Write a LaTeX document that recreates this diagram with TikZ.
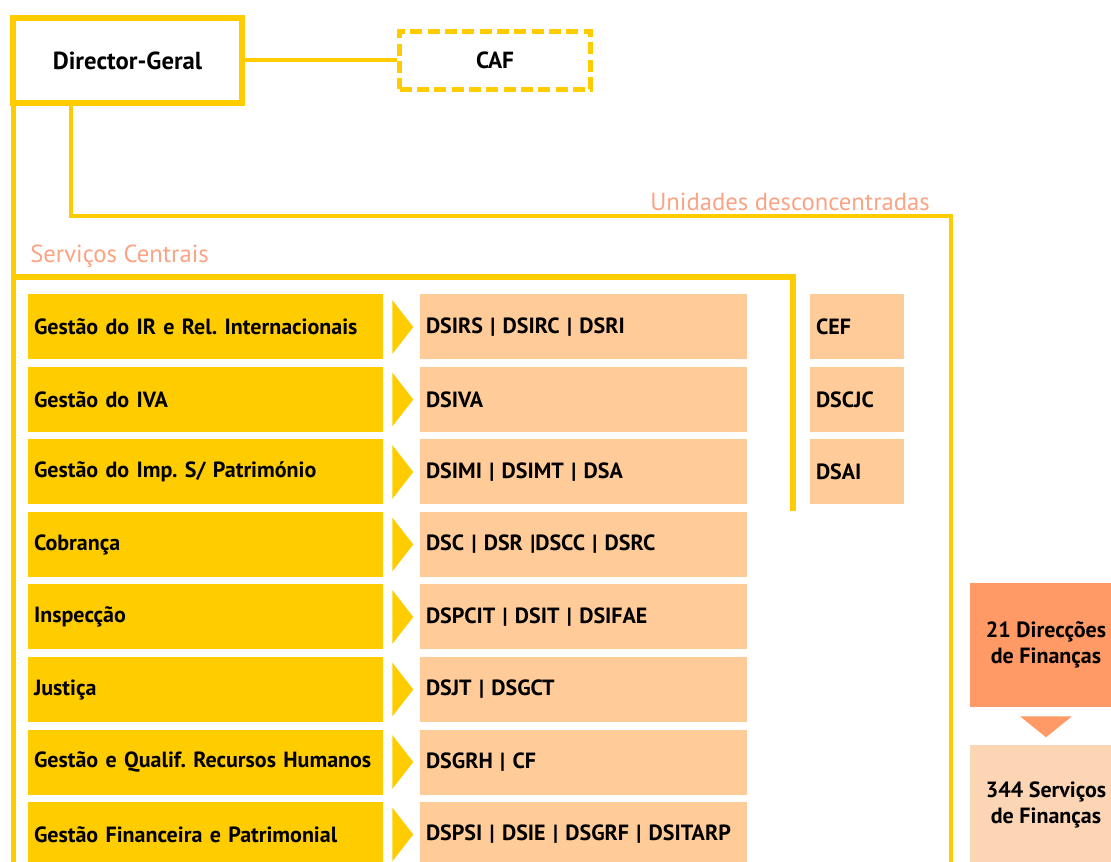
\documentclass[tikz,border=0pt]{standalone}
\usepackage{fontspec}
\setmainfont{PT Sans}
\usepackage{tikz}
\usetikzlibrary{calc}
\definecolor{dgyellow}{HTML}{FFCC00}
\definecolor{dgpeach}{HTML}{FFCC99}
\definecolor{dgsalmon}{HTML}{FBA383}
\definecolor{dforange}{HTML}{FF9966}
\definecolor{sfpeach}{HTML}{FCD5B4}
\frenchspacing

\begin{document}
\begin{tikzpicture}[x=0.75pt, y=-0.75pt,
        conn/.style={draw=dgyellow, line width=3.8pt},
        thin conn/.style={draw=dgyellow, line width=3pt},
        topbox/.style={draw=dgyellow, line width=4.5pt, fill=white,
                       font=\bfseries\fontsize{18.5}{22}\selectfont,
                       minimum width=172pt, minimum height=64pt},
        cafbox/.style={draw=dgyellow, line width=3.8pt, dash pattern=on 9pt off 4pt,
                       font=\bfseries\fontsize{17.5}{22}\selectfont,
                       minimum width=143pt, minimum height=43pt},
        gbox/.style={fill=dgyellow, minimum height=48.75pt, text width=257.25pt,
                     align=left, inner xsep=4.5pt,
                     font=\bfseries\fontsize{16.5}{19}\selectfont},
        pbox/.style={fill=dgpeach, minimum height=48.75pt, text width=236.25pt,
                     align=left, inner xsep=4.5pt,
                     font=\bfseries\fontsize{16.5}{19}\selectfont},
        sbox/.style={pbox, text width=61.5pt},
        big/.style={minimum width=114pt, align=center, inner sep=0pt,
                    font=\bfseries\fontsize{16.5}{20}\selectfont},
        grp/.style={text=dgsalmon, font=\fontsize{18.5}{22}\selectfont, inner sep=0pt}
    ]
    \useasboundingbox (0,0) rectangle (1111,862);

    % Top level
    \node[topbox] (dg) at (127.5,60.5) {Director-Geral};
    \node[cafbox] (caf) at (495,60.5) {CAF};
    \draw[thin conn] (dg.east) -- (caf.west);

    % Brackets
    \coordinate (lbot) at (13.5,862);
    \coordinate (scl) at (13.5,277);
    \coordinate (scr) at (793,511);
    \coordinate (udtop) at (70.5,104);
    \coordinate (udbot) at (951,862);
    \draw[conn] (13.5,104) -- (lbot);
    \draw[conn] (scl) -| (scr);
    \draw[thin conn] (udtop) |- (400,216.5) -| (udbot);
    \node[grp, anchor=south east] (ud) at (930,211) {Unidades desconcentradas};
    \node[grp, anchor=south west] (sc) at (30,268) {Serviços Centrais};

    % ---- Row 1 ----
    \node[gbox] (g1) at (205.5,327) {Gestão do IR e Rel. Internacionais};
    \node[pbox] (p1) at (583.5,327) {DSIRS | DSIRC | DSRI};
    \node[sbox] (s1) at (857,327) {CEF};

    % ---- Row 2 ----
    \node[gbox] (g2) at (205.5,399.5) {Gestão do IVA};
    \node[pbox] (p2) at (583.5,399.5) {DSIVA};
    \node[sbox] (s2) at (857,399.5) {DSCJC};

    % ---- Row 3 ----
    \node[gbox] (g3) at (205.5,472) {Gestão do Imp. S/ Património};
    \node[pbox] (p3) at (583.5,472) {DSIMI | DSIMT | DSA};
    \node[sbox] (s3) at (857,472) {DSAI};

    % ---- Row 4 ----
    \node[gbox] (g4) at (205.5,544.5) {Cobrança};
    \node[pbox] (p4) at (583.5,544.5) {DSC | DSR |DSCC | DSRC};

    % ---- Row 5 ----
    \node[gbox] (g5) at (205.5,617) {Inspecção};
    \node[pbox] (p5) at (583.5,617) {DSPCIT | DSIT | DSIFAE};

    % ---- Row 6 ----
    \node[gbox] (g6) at (205.5,689.5) {Justiça};
    \node[pbox] (p6) at (583.5,689.5) {DSJT | DSGCT};

    % ---- Row 7 ----
    \node[gbox] (g7) at (205.5,762) {Gestão e Qualif. Recursos Humanos};
    \node[pbox] (p7) at (583.5,762) {DSGRH | CF};

    % ---- Row 8 ----
    \node[gbox] (g8) at (205.5,834.5) {Gestão Financeira e Patrimonial};
    \node[pbox] (p8) at (583.5,834.5) {DSPSI | DSIE | DSGRF | DSITARP};

    % Arrow heads between columns
    \fill[dgyellow] ($(g1.east)+(9,-27)$) -- ($(g1.east)+(30,0)$) -- ($(g1.east)+(9,27)$) -- cycle;
    \fill[dgyellow] ($(g2.east)+(9,-27)$) -- ($(g2.east)+(30,0)$) -- ($(g2.east)+(9,27)$) -- cycle;
    \fill[dgyellow] ($(g3.east)+(9,-27)$) -- ($(g3.east)+(30,0)$) -- ($(g3.east)+(9,27)$) -- cycle;
    \fill[dgyellow] ($(g4.east)+(9,-27)$) -- ($(g4.east)+(30,0)$) -- ($(g4.east)+(9,27)$) -- cycle;
    \fill[dgyellow] ($(g5.east)+(9,-27)$) -- ($(g5.east)+(30,0)$) -- ($(g5.east)+(9,27)$) -- cycle;
    \fill[dgyellow] ($(g6.east)+(9,-27)$) -- ($(g6.east)+(30,0)$) -- ($(g6.east)+(9,27)$) -- cycle;
    \fill[dgyellow] ($(g7.east)+(9,-27)$) -- ($(g7.east)+(30,0)$) -- ($(g7.east)+(9,27)$) -- cycle;
    \fill[dgyellow] ($(g8.east)+(9,-27)$) -- ($(g8.east)+(30,0)$) -- ($(g8.east)+(9,27)$) -- cycle;

    % Finanças
    \node[big, fill=dforange, minimum height=93pt] (df) at (1046,645)
        {21 Direcções\\de Finanças};
    \node[big, fill=sfpeach, minimum height=90pt] (sf) at (1046,805)
        {344 Serviços\\de Finanças};
    \fill[dforange] ($(df.south)+(-26,9)$) -- ($(df.south)+(26,9)$) -- ($(df.south)+(0,30)$) -- cycle;
\end{tikzpicture}
\end{document}
